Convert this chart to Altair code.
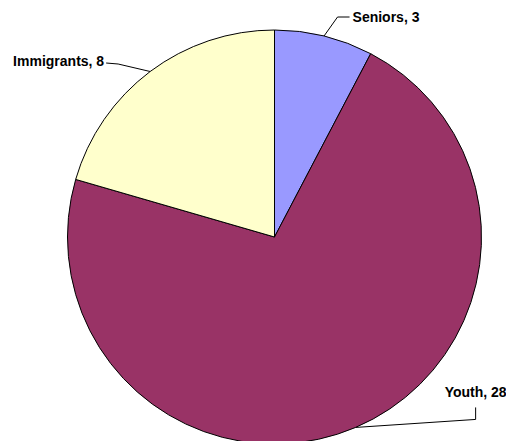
import math
import altair as alt
import pandas as pd

# ---- data ----
categories = ["Seniors", "Youth", "Immigrants"]
values = [3, 28, 8]
colors = ["#9999FF", "#993366", "#FFFFCC"]

# ---- layout ----
W, H = 506, 441
CX, CY, R = 274.5, 237.0, 207.0
FONT = "Liberation Sans"
FS = 14

total = sum(values)
mids = []
cum = 0
for v in values:
    mids.append((cum + v / 2) / total * 2 * math.pi)
    cum += v

pie_df = pd.DataFrame({"category": categories, "value": values, "idx": list(range(len(values)))})

# leader line offsets (layout): elbow relative to edge point, end relative to elbow, text relative to end
leader = {
    "Seniors": dict(elbow=(13.5, -19), end=(12, 0), text=(3, 0.5), align="left"),
    "Immigrants": dict(elbow=(-32, -7.5), end=(-12, -1), text=(-2, -1.5), align="right"),
    "Youth": dict(elbow=(120, -8), end=(0, -12), text=(0, -14), align="center"),
}

line_rows = []
text_rows = []
for cat, val, a in zip(categories, values, mids):
    ex = CX + R * math.sin(a)
    ey = CY - R * math.cos(a)
    g = leader[cat]
    bx, by = ex + g["elbow"][0], ey + g["elbow"][1]
    tx, ty = bx + g["end"][0], by + g["end"][1]
    for i, (px, py) in enumerate([(ex, ey), (bx, by), (tx, ty)]):
        line_rows.append({"category": cat, "i": i, "px": px, "py": py})
    text_rows.append({"category": cat, "label": f"{cat}, {val}",
                      "px": tx + g["text"][0], "py": ty + g["text"][1], "align": g["align"]})

line_df = pd.DataFrame(line_rows)
text_df = pd.DataFrame(text_rows)

pie = alt.Chart(pie_df).mark_arc(radius=R, stroke="black", strokeWidth=1).encode(
    theta=alt.Theta("value:Q", stack=True),
    order=alt.Order("idx:Q"),
    color=alt.Color("category:N", scale=alt.Scale(domain=categories, range=colors), legend=None),
    x=alt.value(CX),
    y=alt.value(CY),
)

lines = alt.Chart(line_df).mark_line(color="black", strokeWidth=1).encode(
    x=alt.X("px:Q", scale=None),
    y=alt.Y("py:Q", scale=None),
    detail="category:N",
    order="i:Q",
)

texts = []
for al in ["left", "right", "center"]:
    texts.append(
        alt.Chart(text_df).transform_filter(alt.datum.align == al).mark_text(
            align=al, baseline="middle", font=FONT, fontSize=FS, fontWeight="bold", color="black"
        ).encode(
            x=alt.X("px:Q", scale=None),
            y=alt.Y("py:Q", scale=None),
            text="label:N",
        )
    )

chart = alt.layer(pie, lines, *texts).properties(
    width=W, height=H, autosize=alt.AutoSizeParams(type="none"), padding=0, background="white"
).configure_view(stroke=None)

chart.save("out.html", embed_options={"renderer": "svg", "actions": False})
